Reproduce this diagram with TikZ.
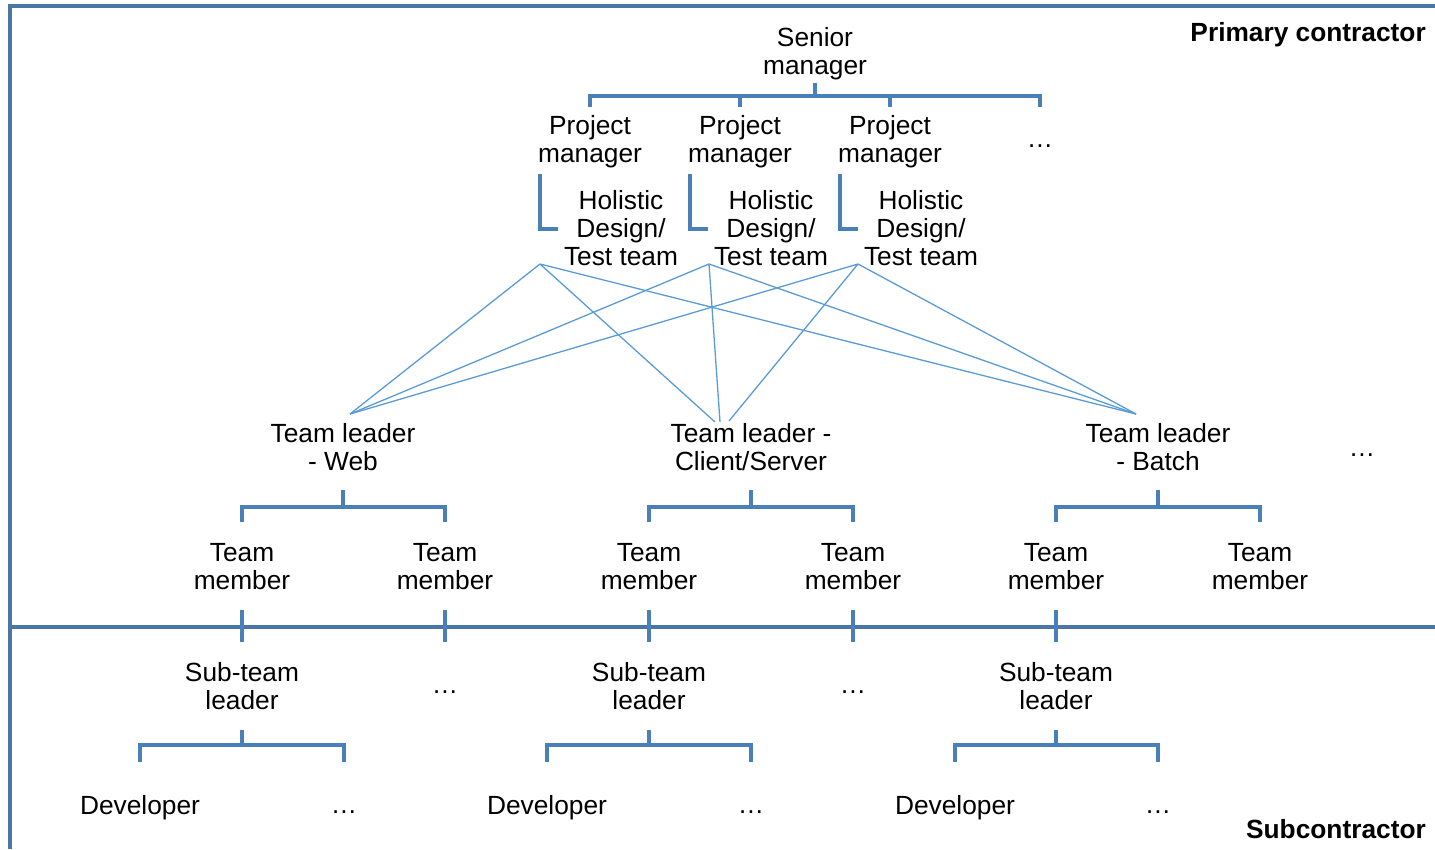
\documentclass[tikz,border=0pt]{standalone}
\usepackage{fontspec}
\setmainfont{Liberation Sans}
\usetikzlibrary{calc}

\definecolor{framec}{HTML}{4A76A6}
\definecolor{treec}{HTML}{4A80BA}
\definecolor{fanc}{HTML}{5B9BD5}

\newcommand{\labelfont}{\fontsize{26.3}{28}\selectfont}

\tikzset{
  lbl/.style={align=center, inner sep=0pt, font=\labelfont},
  region/.style={font=\labelfont\bfseries, inner sep=0pt, anchor=east},
  frameline/.style={draw=framec, line width=3.3pt},
  tree/.style={draw=treec, line width=3.2pt},
  fan/.style={draw=fanc, line width=1.3pt},
}

\begin{document}
\begin{tikzpicture}[x=1pt, y=-1pt]
  \useasboundingbox (0,0) rectangle (1435,849);

  % frame: top edge, left edge and the split between the two contractors
  \draw[frameline] (1435,6) -- (10,6) -- (10,849);
  \draw[frameline] (10,627) -- (1435,627);

  \node[region] (prim) at (1426,35) {Primary contractor};
  \node[region] (sub)  at (1426,829) {Subcontractor};

  % ---- primary contractor ----
  \node[lbl] (sm) at (815,54) {Senior\\manager};

  \node[lbl] (pm1) at (590,142) {Project\\manager};
  \node[lbl] (pm2) at (740,142) {Project\\manager};
  \node[lbl] (pm3) at (890,142) {Project\\manager};
  \node[lbl] (pmx) at (1040,146) {\dots};

  \node[lbl] (hd1) at (621,228) {Holistic\\Design/\\Test team};
  \node[lbl] (hd2) at (771,228) {Holistic\\Design/\\Test team};
  \node[lbl] (hd3) at (921,228) {Holistic\\Design/\\Test team};

  \node[lbl] (tl1) at (343,447) {Team leader\\- Web};
  \node[lbl] (tl2) at (751,447) {Team leader -\\Client/Server};
  \node[lbl] (tl3) at (1158,447) {Team leader\\- Batch};
  \node[lbl] (tlx) at (1362,455) {\dots};

  \node[lbl] (tm1) at (242,567) {Team\\member};
  \node[lbl] (tm2) at (445,567) {Team\\member};
  \node[lbl] (tm3) at (649,567) {Team\\member};
  \node[lbl] (tm4) at (853,567) {Team\\member};
  \node[lbl] (tm5) at (1056,567) {Team\\member};
  \node[lbl] (tm6) at (1260,567) {Team\\member};

  % ---- subcontractor ----
  \node[lbl] (st1) at (242,686) {Sub-team\\leader};
  \node[lbl] (stx1) at (445,692) {\dots};
  \node[lbl] (st2) at (649,686) {Sub-team\\leader};
  \node[lbl] (stx2) at (853,692) {\dots};
  \node[lbl] (st3) at (1056,686) {Sub-team\\leader};

  \node[lbl] (dev1) at (140,808) {Developer};
  \node[lbl] (devx1) at (344,812) {\dots};
  \node[lbl] (dev2) at (547,808) {Developer};
  \node[lbl] (devx2) at (751,812) {\dots};
  \node[lbl] (dev3) at (955,808) {Developer};
  \node[lbl] (devx3) at (1158,812) {\dots};

  % ---- tree connectors ----
  % senior manager to project managers
  \coordinate (smj) at (815,96);
  \draw[tree] (815,83) -- (smj);
  \draw[tree] (pm1 |- 0,107) -- (pm1 |- smj) -- (pmx |- smj) -- (pmx |- 0,107);
  \draw[tree] (pm2 |- 0,107) -- (pm2 |- smj);
  \draw[tree] (pm3 |- 0,107) -- (pm3 |- smj);

  % project manager to design/test team
  \draw[tree] ($(pm1)+(-50,32)$) |- ($(hd1.west)+(-6,1)$);
  \draw[tree] ($(pm2)+(-50,32)$) |- ($(hd2.west)+(-6,1)$);
  \draw[tree] ($(pm3)+(-50,32)$) |- ($(hd3.west)+(-6,1)$);

  % design/test teams to every team leader
  \coordinate (f1) at (540,264);
  \coordinate (f2) at (709,264);
  \coordinate (f3) at (858,264);
  \coordinate (aw) at (350,414);
  \coordinate (ab) at (1136,414);
  \coordinate (ac1) at (715,422);
  \coordinate (ac2) at (720,422);
  \coordinate (ac3) at (729,421);
  \draw[fan] (f1) -- (aw)  (f1) -- (ac1)  (f1) -- (ab);
  \draw[fan] (f2) -- (aw)  (f2) -- (ac2)  (f2) -- (ab);
  \draw[fan] (f3) -- (aw)  (f3) -- (ac3)  (f3) -- (ab);

  % team leaders to team members
  \foreach \l/\a/\b in {tl1/tm1/tm2, tl2/tm3/tm4, tl3/tm5/tm6}{
    \coordinate (j) at ($(\l)+(0,60)$);
    \coordinate (k) at ($(\a)+(0,-45)$);
    \draw[tree] ($(\l)+(0,43)$) -- (j);
    \draw[tree] (k) -- (\a |- j) -- (\b |- j) -- (k -| \b);
  }

  % team members across the contractor line
  \foreach \m in {tm1, tm2, tm3, tm4, tm5}{
    \draw[tree] ($(\m)+(0,43)$) -- ($(\m)+(0,75)$);
  }

  % sub-team leaders to developers
  \foreach \l/\a/\b in {st1/dev1/devx1, st2/dev2/devx2, st3/dev3/devx3}{
    \coordinate (j) at ($(\l)+(0,59)$);
    \coordinate (k) at ($(\l)+(0,76)$);
    \draw[tree] ($(\l)+(0,44)$) -- (j);
    \draw[tree] (k -| \a) -- (\a |- j) -- (\b |- j) -- (k -| \b);
  }
\end{tikzpicture}
\end{document}
